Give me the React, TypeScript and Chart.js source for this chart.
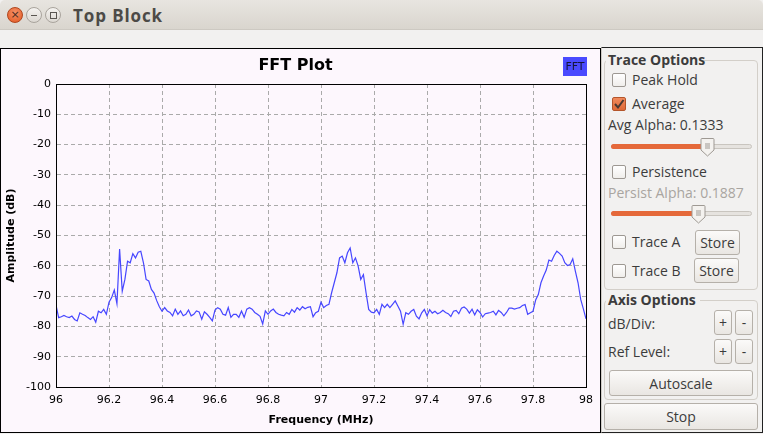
import React, { useEffect, useRef } from 'react';
import { Chart, registerables } from 'chart.js';

Chart.register(...registerables);

// FFT bins: 96.00 MHz to 98.00 MHz, one bin every 0.01 MHz
const FREQ_START_MHZ = 96.0;
const FREQ_STEP_MHZ = 0.01;

// Amplitude (dB), 96.00 - 96.49 MHz
const ampBand1 = [
  -73, -77.1, -76.8, -76.4, -76.8, -77.1, -76.6, -77.7, -78.2, -75.5,
  -76.0, -76.4, -77.1, -77.7, -76.8, -78.6, -75.0, -75.5, -74.4, -76.0,
  -72.0, -70.5, -68.0, -72.5, -54.5, -68.4, -64.5, -58.5, -59.0, -56.0,
  -57.4, -55.5, -55.2, -59.0, -64.5, -65.0, -67.8, -69.0, -71.5, -73.5,
  -75.0, -73.8, -74.9, -75.4, -76.5, -74.3, -76.0, -74.9, -76.5, -76.0,
];
// 96.50 - 96.99 MHz
const ampBand2 = [
  -74.6, -76.5, -76.0, -74.9, -75.2, -77.6, -75.2, -76.0, -77.0, -78.2,
  -74.6, -73.8, -74.3, -76.0, -76.3, -73.8, -77.0, -76.0, -76.0, -77.0,
  -74.9, -77.0, -74.3, -73.8, -74.3, -75.4, -76.0, -76.7, -79.2, -74.9,
  -76.0, -74.9, -74.3, -75.4, -76.0, -76.3, -76.5, -75.4, -76.0, -74.4,
  -75.3, -73.8, -74.6, -73.5, -74.2, -73.7, -73.5, -76.8, -75.5, -75.0,
];
// 97.00 - 97.49 MHz
const ampBand3 = [
  -72.0, -73.8, -73.1, -72.7, -68.9, -65.6, -62.3, -57.4, -56.8, -59.0,
  -55.7, -54.1, -59.0, -57.4, -60.0, -64.5, -62.9, -68.9, -74.4, -75.3,
  -75.5, -74.4, -76.0, -72.7, -73.8, -72.7, -73.8, -72.7, -71.6, -73.3,
  -75.0, -79.3, -75.5, -76.0, -75.0, -74.4, -76.6, -77.5, -75.5, -74.4,
  -76.5, -74.5, -75.6, -75.0, -75.8, -75.4, -74.7, -75.4, -75.8, -76.7,
];
// 97.50 - 98.00 MHz
const ampBand4 = [
  -75.0, -74.7, -75.8, -74.0, -73.6, -74.3, -75.6, -74.3, -76.2, -74.5,
  -75.4, -76.9, -75.8, -75.6, -75.4, -75.0, -76.2, -74.7, -75.4, -76.5,
  -75.4, -74.0, -74.0, -74.3, -74.0, -73.8, -73.1, -72.8, -76.0, -75.5,
  -75.0, -71.3, -69.5, -65.6, -63.4, -61.4, -58.1, -58.5, -56.6, -55.2,
  -55.9, -56.8, -59.0, -59.9, -59.6, -57.7, -61.8, -65.6, -71.1, -74.2,
  -77.5,
];

const freqTicks = [96, 96.2, 96.4, 96.6, 96.8, 97, 97.2, 97.4, 97.6, 97.8, 98];
const ampTicks = [0, -10, -20, -30, -40, -50, -60, -70, -80, -90, -100];

const amplitudes = [...ampBand1, ...ampBand2, ...ampBand3, ...ampBand4];
const points = amplitudes.map((y, i) => ({
  x: +(FREQ_START_MHZ + i * FREQ_STEP_MHZ).toFixed(2),
  y,
}));

const PLOT_FONT = '"DejaVu Sans", sans-serif';
const UI_FONT = '"Open Sans", "Noto Sans", sans-serif';

const framePlugin = {
  id: 'fftFrame',
  afterDatasetsDraw(chart: any) {
    const { ctx, chartArea } = chart;
    const { left, top, right, bottom } = chartArea;
    ctx.save();
    ctx.strokeStyle = '#000';
    ctx.lineWidth = 1;
    ctx.strokeRect(Math.round(left) + 0.5, Math.round(top) + 0.5, Math.round(right - left), Math.round(bottom - top));
    ctx.restore();
  },
  afterDraw(chart: any) {
    const { ctx, chartArea } = chart;
    const w = 24;
    const h = 19;
    const x = Math.round(chartArea.right) - w + 1;
    const y = 8;
    ctx.save();
    ctx.fillStyle = '#4a4aff';
    ctx.fillRect(x, y, w, h);
    ctx.fillStyle = '#15153a';
    ctx.font = `11px ${PLOT_FONT}`;
    ctx.textAlign = 'center';
    ctx.textBaseline = 'middle';
    ctx.fillText('FFT', x + w / 2, y + h / 2 + 1);
    ctx.restore();
  },
};

const Checkbox = ({ x, y, checked }: { x: number; y: number; checked?: boolean }) => (
  <div
    style={{
      position: 'absolute',
      left: x,
      top: y,
      width: 14,
      height: 14,
      boxSizing: 'border-box',
      border: checked ? '1px solid #b4552a' : '1px solid #9d9892',
      borderRadius: 2,
      background: checked ? 'linear-gradient(#f08a5c, #df6a38)' : 'linear-gradient(#ffffff, #f0eeeb)',
    }}
  >
    {checked && (
      <svg width="12" height="12" style={{ position: 'absolute', left: 0, top: 0 }}>
        <path d="M2 6 L5 9.5 L10.5 2" stroke="#4a3a33" strokeWidth="2" fill="none" />
      </svg>
    )}
  </div>
);

const Label = ({ x, y, text, color, bold, size }: { x: number; y: number; text: string; color?: string; bold?: boolean; size?: number }) => (
  <div
    style={{
      position: 'absolute',
      left: x,
      top: y,
      transform: 'translateY(-50%)',
      fontFamily: UI_FONT,
      fontSize: size || 14,
      fontWeight: bold ? 700 : 400,
      color: color || '#3c3c3c',
      whiteSpace: 'nowrap',
      lineHeight: 1,
    }}
  >
    {text}
  </div>
);

const Button = ({ x, y, w, h, text }: { x: number; y: number; w: number; h: number; text: string }) => (
  <div
    style={{
      position: 'absolute',
      left: x,
      top: y,
      width: w,
      height: h,
      boxSizing: 'border-box',
      border: '1px solid #b5b0a9',
      borderRadius: 3,
      background: 'linear-gradient(#fbfaf9, #e9e6e2)',
      display: 'flex',
      alignItems: 'center',
      justifyContent: 'center',
      fontFamily: UI_FONT,
      fontSize: 14,
      color: '#3c3c3c',
    }}
  >
    {text}
  </div>
);

const Slider = ({ y, fillTo, handleX }: { y: number; fillTo: number; handleX: number }) => (
  <>
    <div
      style={{
        position: 'absolute',
        left: 611,
        top: y - 2,
        width: 141,
        height: 5,
        boxSizing: 'border-box',
        borderRadius: 3,
        border: '1px solid #c9c5bf',
        background: '#e6e3df',
      }}
    />
    <div
      style={{
        position: 'absolute',
        left: 611,
        top: y - 2,
        width: fillTo - 611,
        height: 5,
        borderRadius: 3,
        background: '#e5693a',
      }}
    />
    <svg width="15" height="20" style={{ position: 'absolute', left: handleX - 7, top: y - 9 }}>
      <path d="M2 1.5 H13 Q14 1.5 14 2.5 V13 L7.5 19 L1 13 V2.5 Q1 1.5 2 1.5 Z" fill="#f4f2ef" stroke="#9e9993" strokeWidth="1" />
      <line x1="5" y1="7" x2="10" y2="7" stroke="#9e9993" />
      <line x1="5" y1="9" x2="10" y2="9" stroke="#9e9993" />
      <line x1="5" y1="11" x2="10" y2="11" stroke="#9e9993" />
    </svg>
  </>
);

const GroupBox = ({ y, h }: { y: number; h: number }) => (
  <div
    style={{
      position: 'absolute',
      left: 604,
      top: y,
      width: 154,
      height: h,
      boxSizing: 'border-box',
      border: '1px solid #d3cfc9',
      borderRadius: 4,
    }}
  />
);

export default function App() {
  const canvasRef = useRef<HTMLCanvasElement>(null);

  useEffect(() => {
    const chart = new Chart(canvasRef.current as HTMLCanvasElement, {
      type: 'line',
      data: {
        datasets: [
          {
            label: 'FFT',
            data: points,
            borderColor: '#4646ff',
            borderWidth: 1.2,
            pointRadius: 0,
            tension: 0,
            fill: false,
          },
        ],
      },
      options: {
        animation: false,
        responsive: false,
        parsing: false,
        layout: { padding: { left: 0, right: 10, top: 0, bottom: 0 } },
        plugins: {
          legend: { display: false },
          tooltip: { enabled: false },
          title: {
            display: true,
            text: 'FFT Plot',
            color: '#000',
            font: { family: PLOT_FONT, size: 16, weight: 'bold', lineHeight: 1.2 },
            padding: { top: 7, bottom: 8.8 },
          },
        },
        scales: {
          x: {
            type: 'linear',
            min: 96,
            max: 98,
            afterBuildTicks: (scale: any) => {
              scale.ticks = freqTicks.map((v) => ({ value: v }));
            },
            afterFit: (scale: any) => {
              scale.height = 45;
            },
            ticks: {
              color: '#000',
              font: { family: PLOT_FONT, size: 11 },
              padding: 7,
              maxRotation: 0,
              autoSkip: false,
              callback: (v: any) => String(v),
            },
            grid: { color: '#aaaaaa', lineWidth: 1, drawTicks: false },
            border: { display: true, color: '#000', width: 1, dash: [4, 3] },
            title: {
              display: true,
              text: 'Frequency (MHz)',
              color: '#000',
              font: { family: PLOT_FONT, size: 11, weight: 'bold', lineHeight: 1.2 },
              padding: { top: 0, bottom: 5 },
            },
          },
          y: {
            type: 'linear',
            min: -100,
            max: 0,
            afterBuildTicks: (scale: any) => {
              scale.ticks = ampTicks.map((v) => ({ value: v }));
            },
            afterFit: (scale: any) => {
              scale.width = 55;
            },
            ticks: {
              color: '#000',
              font: { family: PLOT_FONT, size: 11 },
              padding: 5,
              autoSkip: false,
              callback: (v: any) => String(v),
            },
            grid: { color: '#aaaaaa', lineWidth: 1, drawTicks: false },
            border: { display: true, color: '#000', width: 1, dash: [4, 3] },
            title: {
              display: true,
              text: 'Amplitude (dB)',
              color: '#000',
              font: { family: PLOT_FONT, size: 11, weight: 'bold', lineHeight: 1.2 },
              padding: { top: 4, bottom: 0 },
            },
          },
        },
      } as any,
      plugins: [framePlugin],
    });
    return () => chart.destroy();
  }, []);

  return (
    <div
      style={{
        position: 'fixed',
        left: 0,
        top: 0,
        width: 763,
        height: 434,
        overflow: 'hidden',
        background: '#f2f1f0',
        fontFamily: UI_FONT,
      }}
    >
      {/* Title bar */}
      <div
        style={{
          position: 'absolute',
          left: 0,
          top: 0,
          width: 763,
          height: 29,
          background: 'linear-gradient(#e8e5e0, #d9d5ce)',
          borderTopLeftRadius: 5,
          borderTopRightRadius: 5,
          borderBottom: '1px solid #cdc9c2',
        }}
      />
      <div
        style={{
          position: 'absolute',
          left: 7,
          top: 7,
          width: 16,
          height: 16,
          boxSizing: 'border-box',
          borderRadius: '50%',
          border: '1px solid #b0461d',
          background: 'radial-gradient(circle at 50% 35%, #f6926a, #e2571f)',
          color: '#4a2a1c',
          fontSize: 11,
          lineHeight: '14px',
          textAlign: 'center',
          fontFamily: '"DejaVu Sans", sans-serif',
        }}
      >
        ×
      </div>
      <div
        style={{
          position: 'absolute',
          left: 26,
          top: 7,
          width: 16,
          height: 16,
          boxSizing: 'border-box',
          borderRadius: '50%',
          border: '1px solid #a9a49d',
          background: 'linear-gradient(#f5f3f0, #dcd8d2)',
        }}
      >
        <div style={{ position: 'absolute', left: 4, top: 6.5, width: 6, height: 1, background: '#5a5651' }} />
      </div>
      <div
        style={{
          position: 'absolute',
          left: 45,
          top: 7,
          width: 16,
          height: 16,
          boxSizing: 'border-box',
          borderRadius: '50%',
          border: '1px solid #a9a49d',
          background: 'linear-gradient(#f5f3f0, #dcd8d2)',
        }}
      >
        <div
          style={{
            position: 'absolute',
            left: 3.5,
            top: 3.5,
            width: 7,
            height: 7,
            boxSizing: 'border-box',
            border: '1px solid #5a5651',
          }}
        />
      </div>
      <div
        style={{
          position: 'absolute',
          left: 73,
          top: 15,
          transform: 'translateY(-50%)',
          fontFamily: UI_FONT,
          fontSize: 17,
          fontWeight: 700,
          letterSpacing: 0.9,
          color: '#4c4a47',
          lineHeight: 1,
          whiteSpace: 'nowrap',
        }}
      >
        Top Block
      </div>

      {/* Plot frame */}
      <div
        style={{
          position: 'absolute',
          left: 0,
          top: 48,
          width: 601,
          height: 385,
          boxSizing: 'border-box',
          border: '1px solid #000',
          background: '#fdf7fd',
        }}
      >
        <canvas ref={canvasRef} width={599} height={383} style={{ display: 'block', width: 599, height: 383 }} />
      </div>

      {/* Right panel frame */}
      <div
        style={{
          position: 'absolute',
          left: 601,
          top: 47,
          width: 162,
          height: 386,
          boxSizing: 'border-box',
          borderTop: '1px solid #222',
          borderRight: '1px solid #222',
          borderBottom: '1px solid #222',
          borderLeft: '1px solid #cfcbc5',
        }}
      />

      {/* Trace Options */}
      <GroupBox y={60} h={230} />
      <div style={{ position: 'absolute', left: 606, top: 52, width: 96, height: 16, background: '#f2f1f0' }} />
      <Label x={608} y={60} text="Trace Options" bold />
      <Checkbox x={612} y={73} />
      <Label x={632} y={80} text="Peak Hold" />
      <Checkbox x={612} y={97} checked />
      <Label x={632} y={104} text="Average" />
      <Label x={608} y={125} text="Avg Alpha: 0.1333" />
      <Slider y={146} fillTo={707} handleX={707} />
      <Checkbox x={612} y={165} />
      <Label x={632} y={172} text="Persistence" />
      <Label x={608} y={193} text="Persist Alpha: 0.1887" color="#a9a5a0" />
      <Slider y={213} fillTo={698} handleX={698} />
      <Checkbox x={612} y={235} />
      <Label x={632} y={242} text="Trace A" />
      <Button x={695} y={230} w={45} h={25} text="Store" />
      <Checkbox x={612} y={264} />
      <Label x={632} y={271} text="Trace B" />
      <Button x={694} y={258} w={45} h={25} text="Store" />

      {/* Axis Options */}
      <GroupBox y={300} h={100} />
      <div style={{ position: 'absolute', left: 606, top: 292, width: 94, height: 16, background: '#f2f1f0' }} />
      <Label x={608} y={300} text="Axis Options" bold />
      <Label x={608} y={324} text="dB/Div:" />
      <Button x={714} y={310} w={18} h={25} text="+" />
      <Button x={735} y={310} w={18} h={25} text="-" />
      <Label x={608} y={352} text="Ref Level:" />
      <Button x={714} y={339} w={18} h={25} text="+" />
      <Button x={735} y={339} w={18} h={25} text="-" />
      <Button x={609} y={370} w={144} h={26} text="Autoscale" />

      <Button x={604} y={403} w={154} h={27} text="Stop" />
    </div>
  );
}
